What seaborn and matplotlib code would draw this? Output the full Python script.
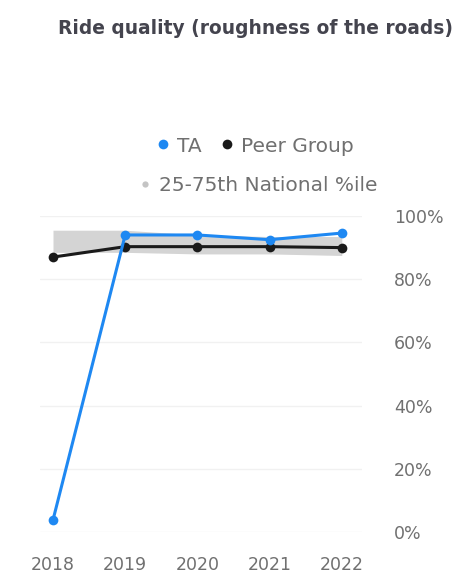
import matplotlib
matplotlib.use("Agg")
import matplotlib.pyplot as plt
from matplotlib.lines import Line2D
import seaborn as sns
import pandas as pd

years = ["2018", "2019", "2020", "2021", "2022"]
ta = [3.8, 94.0, 94.0, 92.5, 94.6]
peer = [87.0, 90.3, 90.3, 90.3, 90.0]
band_low = [88.5, 88.5, 88.0, 88.0, 87.5]
band_high = [95.5, 95.5, 94.0, 93.5, 93.5]
y_ticks = [0, 20, 40, 60, 80, 100]
y_labels = ["0%", "20%", "40%", "60%", "80%", "100%"]

sns.set_theme(style="white")
plt.rcParams["font.family"] = ["DejaVu Sans"]

BLUE = "#1e88f2"
BLACK = "#1a1a1a"
BAND = "#d4d4d4"
TEXT = "#707070"

W, H = 456, 577
fig = plt.figure(figsize=(W / 100, H / 100), dpi=100)
fig.patch.set_facecolor("white")
ax = fig.add_axes([40 / W, (H - 532) / H, 322 / W, 316 / H])

x = list(range(len(years)))
df = pd.DataFrame({"x": x * 2, "value": ta + peer,
                   "series": ["TA"] * 5 + ["Peer Group"] * 5})

ax.fill_between(x, band_low, band_high, color=BAND, lw=0, zorder=1)
sns.lineplot(data=df, x="x", y="value", hue="series",
             palette={"TA": BLUE, "Peer Group": BLACK},
             hue_order=["Peer Group", "TA"],
             marker="o", markersize=7, markeredgewidth=0,
             linewidth=2.2, legend=False, ax=ax, zorder=3)
for ln in ax.lines:
    ln.set_clip_on(False)

ax.set_xlim(-0.18, 4.28)
ax.set_ylim(0, 100)
ax.set_xticks(x)
ax.set_xticklabels(years)
ax.set_yticks(y_ticks)
ax.set_yticklabels(y_labels)
ax.yaxis.tick_right()
ax.tick_params(axis="y", length=0, pad=23, labelsize=12.5, labelcolor=TEXT)
ax.tick_params(axis="x", length=0, pad=17, labelsize=12.5, labelcolor=TEXT)
ax.set_xlabel("")
ax.set_ylabel("")
for s in ax.spines.values():
    s.set_visible(False)
ax.grid(axis="y", color="#f1f1f1", lw=1)
ax.set_axisbelow(True)

fig.text(255.5 / W, 1 - 29 / H, "Ride quality (roughness of the roads)",
         ha="center", va="center", fontsize=13.4, fontweight="bold",
         color="#44444e")

h1 = [Line2D([], [], ls="none", marker="o", ms=7, color=BLUE, mew=0),
      Line2D([], [], ls="none", marker="o", ms=7, color=BLACK, mew=0)]
leg1 = fig.legend(h1, ["TA", "Peer Group"], loc="center",
                  bbox_to_anchor=(255 / W, 1 - 146 / H), ncol=2, frameon=False,
                  fontsize=14.5, handletextpad=0.4, columnspacing=0.95,
                  handlelength=0.6, labelcolor=TEXT)
h2 = [Line2D([], [], ls="none", marker="o", ms=4.5, color="#c4c4c4", mew=0)]
leg2 = fig.legend(h2, ["25-75th National %ile"], loc="center",
                  bbox_to_anchor=(258 / W, 1 - 186 / H), frameon=False,
                  fontsize=14.5, handletextpad=0.4, handlelength=0.6,
                  labelcolor=TEXT)

fig.savefig("out.png", dpi=100, facecolor="white")
